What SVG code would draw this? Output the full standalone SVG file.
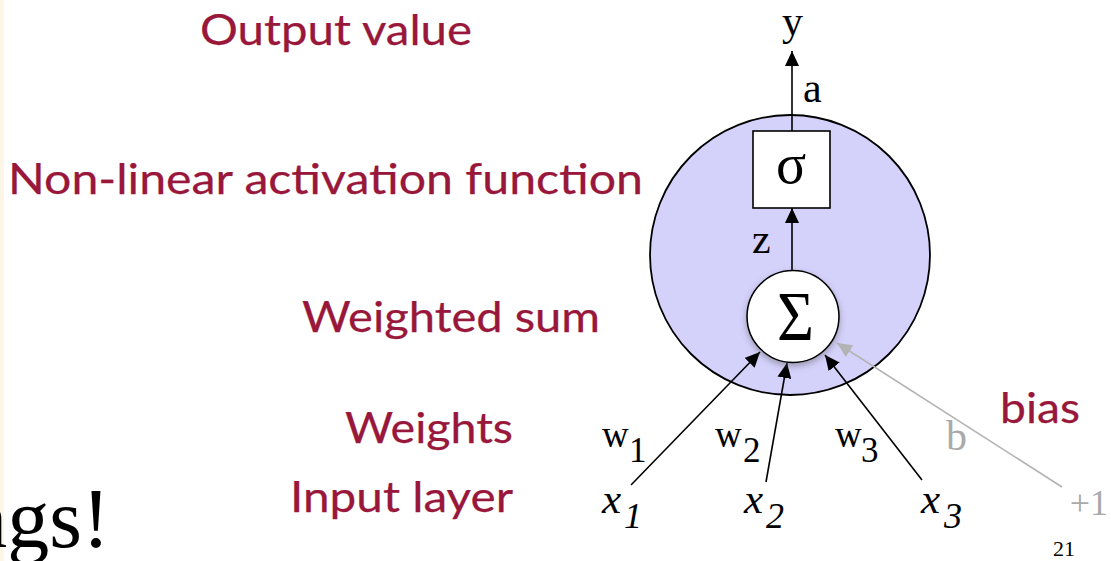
<svg xmlns="http://www.w3.org/2000/svg" width="1111" height="561" viewBox="0 0 1111 561">
<style>
.lbl{font-family:Lato,"Open Sans","Liberation Sans",sans-serif;font-size:42px;fill:#98173b;stroke:#98173b;stroke-width:0.25}
.m{font-family:"Liberation Serif","DejaVu Serif",serif;fill:#000}
.mi{font-family:"Liberation Serif","DejaVu Serif",serif;font-style:italic;fill:#000}
.g{fill:#aaaaaa}
.ln{stroke:#000;stroke-width:1.6;fill:none}
.lg{stroke:#b3b3b3;stroke-width:1.6;fill:none}
</style>
<defs>
<marker id="ah" markerWidth="16" markerHeight="14" refX="15" refY="7" orient="auto" markerUnits="userSpaceOnUse">
<path d="M0,0 L15,7 L0,14 Z" fill="#000"/>
</marker>
<marker id="ahg" markerWidth="16" markerHeight="14" refX="15" refY="7" orient="auto" markerUnits="userSpaceOnUse">
<path d="M0,0 L15,7 L0,14 Z" fill="#b3b3b3"/>
</marker>
<filter id="sh" x="-30%" y="-30%" width="160%" height="160%">
<feDropShadow dx="0" dy="3" stdDeviation="3" flood-color="#555" flood-opacity="0.45"/>
</filter>
</defs>
<rect x="0" y="0" width="1111" height="561" fill="#ffffff"/>
<rect x="0" y="0" width="4" height="561" fill="#fdf6e6"/>

<g id="labels">
<text class="lbl" x="200" y="45" textLength="272" lengthAdjust="spacingAndGlyphs">Output value</text>
<text class="lbl" x="8" y="194" textLength="635" lengthAdjust="spacingAndGlyphs">Non-linear activation function</text>
<text class="lbl" x="302" y="332" textLength="298" lengthAdjust="spacingAndGlyphs">Weighted sum</text>
<text class="lbl" x="345" y="443" textLength="168" lengthAdjust="spacingAndGlyphs">Weights</text>
<text class="lbl" x="290" y="512" textLength="223" lengthAdjust="spacingAndGlyphs">Input layer</text>
<text class="lbl" x="1000" y="423" textLength="80" lengthAdjust="spacingAndGlyphs">bias</text>
</g>

<g id="neuron">
<circle cx="790" cy="255" r="140" fill="#d4d1fb" stroke="#000" stroke-width="1.8"/>
</g>

<g id="connectors">
<line class="ln" x1="792" y1="131" x2="792" y2="51" marker-end="url(#ah)"/>
<line class="ln" x1="792" y1="270" x2="792" y2="208" marker-end="url(#ah)"/>
<line class="ln" x1="631" y1="485" x2="760" y2="352" marker-end="url(#ah)"/>
<line class="ln" x1="766" y1="482" x2="787" y2="363" marker-end="url(#ah)"/>
<line class="ln" x1="922" y1="480" x2="825" y2="355" marker-end="url(#ah)"/>
<line class="lg" x1="1062" y1="487" x2="837" y2="343" marker-end="url(#ahg)"/>
</g>

<g id="activation">
<rect x="753" y="131" width="77" height="77" fill="#fff" stroke="#000" stroke-width="1.6"/>
<text class="m" x="791" y="183" font-size="56" text-anchor="middle">σ</text>
</g>

<g id="sum">
<circle cx="793" cy="316.5" r="46" fill="#fff" stroke="#000" stroke-width="1.6" filter="url(#sh)"/>
<text class="m" x="777" y="340" font-size="70" textLength="37" lengthAdjust="spacingAndGlyphs">Σ</text>
</g>

<g id="math">
<text class="m" x="782" y="35" font-size="42">y</text>
<text class="m" x="803" y="102" font-size="42">a</text>
<text class="m" x="752" y="253" font-size="42">z</text>
<text class="m" x="602" y="447" font-size="37">w</text><text class="m" x="629" y="462" font-size="35">1</text>
<text class="m" x="715" y="447" font-size="37">w</text><text class="m" x="743" y="462" font-size="35">2</text>
<text class="m" x="835" y="447" font-size="37">w</text><text class="m" x="861" y="462" font-size="35">3</text>
<text class="m g" x="946" y="450" font-size="42">b</text>
<text class="mi" x="602" y="513" font-size="43">x</text><text class="mi" x="624" y="528" font-size="36">1</text>
<text class="mi" x="744" y="513" font-size="43">x</text><text class="mi" x="766" y="528" font-size="36">2</text>
<text class="mi" x="921" y="513" font-size="43">x</text><text class="mi" x="944" y="528" font-size="36">3</text>
<text class="m g" x="1108" y="515" font-size="36" text-anchor="end">+1</text>
<text class="m" x="1053" y="556" font-size="22">21</text>
<text class="m" x="110" y="547" font-size="84" text-anchor="end">ngs!</text>
</g>
</svg>
